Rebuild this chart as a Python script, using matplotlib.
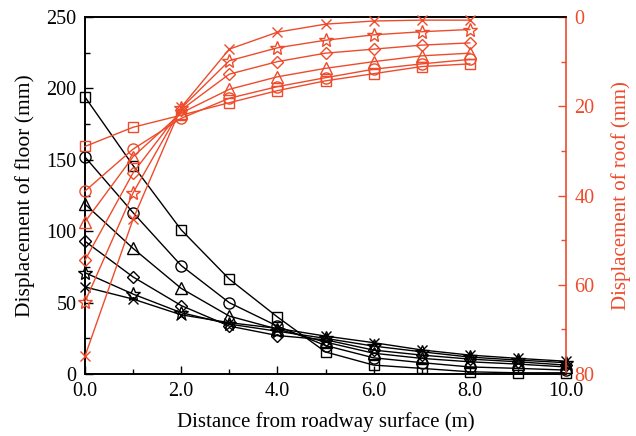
import matplotlib
matplotlib.use("Agg")
import matplotlib.pyplot as plt
from matplotlib.ticker import MultipleLocator, FormatStrFormatter

plt.rcParams['font.family'] = ['Liberation Serif', 'DejaVu Serif']

RED = '#EE4B2B'

# Floor displacement (left axis), distance 0..10 m
x_floor = [0, 1, 2, 3, 4, 5, 6, 7, 8, 9, 10]
floor_square = [194, 146, 101, 66.5, 40, 15.5, 6.3, 4, 1.6, 0.9, 0.9]
floor_circle = [152, 113, 76, 50, 33.6, 20, 11.4, 8, 5, 4, 2.8]
floor_triangle = [119, 88, 60, 40.6, 31.5, 22.4, 14.6, 11, 8.6, 7, 5]
floor_diamond = [93, 68, 48, 33.6, 27, 24, 16.8, 13.3, 10.5, 8.6, 6.3]
floor_star = [71, 56, 43, 35, 30, 25, 19.6, 15.6, 11.9, 9.8, 8]
floor_x = [61, 52.5, 41.5, 36, 32, 26.6, 22, 16.9, 13.3, 11, 9]

# Roof displacement (right axis, inverted), distance 0..8 m
x_roof = [0, 1, 2, 3, 4, 5, 6, 7, 8]
roof_square = [29, 24.7, 22, 19.2, 16.5, 14.3, 12.7, 11.1, 10.5]
roof_circle = [39, 29.6, 22.7, 18.2, 15.6, 13.6, 11.7, 10.5, 9.5]
roof_triangle = [45.9, 31.3, 21.5, 16.2, 13.4, 11.5, 10, 8.7, 8.1]
roof_diamond = [54.5, 34.9, 20.8, 12.8, 10, 8.1, 7.2, 6.3, 5.8]
roof_star = [63.8, 39.4, 20.4, 9.8, 6.9, 5.2, 4, 3.3, 2.8]
roof_x = [76, 45.3, 20.2, 7.2, 3.4, 1.6, 0.9, 0.7, 0.7]

markers = ['s', 'o', '^', 'D', '*', 'x']
msizes = [7, 8, 8, 6.5, 10, 7.5]
floor_series = [floor_square, floor_circle, floor_triangle, floor_diamond, floor_star, floor_x]
roof_series = [roof_square, roof_circle, roof_triangle, roof_diamond, roof_star, roof_x]

fig = plt.figure(figsize=(6.36, 4.36), dpi=100)
ax = fig.add_axes([0.1336, 0.142, 0.7564, 0.819])
ax2 = ax.twinx()

for ys, m, ms in zip(floor_series, markers, msizes):
    ax.plot(x_floor, ys, color='black', lw=1.0, marker=m, ms=ms,
            mfc='none', mec='black', mew=1.0, clip_on=False, zorder=3)

for ys, m, ms in zip(roof_series, markers, msizes):
    ax2.plot(x_roof, ys, color=RED, lw=1.0, marker=m, ms=ms,
             mfc='none', mec=RED, mew=1.0, clip_on=False, zorder=3)

ax.set_xlim(0, 10)
ax.set_ylim(0, 250)
ax2.set_ylim(80, 0)

ax.xaxis.set_major_locator(MultipleLocator(2))
ax.xaxis.set_minor_locator(MultipleLocator(1))
ax.xaxis.set_major_formatter(FormatStrFormatter('%.1f'))
ax.yaxis.set_major_locator(MultipleLocator(50))
ax.yaxis.set_minor_locator(MultipleLocator(25))
ax2.yaxis.set_major_locator(MultipleLocator(20))
ax2.yaxis.set_minor_locator(MultipleLocator(10))

ax.tick_params(axis='both', which='both', direction='in', labelsize=14.5, top=False)
ax.tick_params(axis='both', which='major', length=6, width=1, pad=6)
ax.tick_params(axis='both', which='minor', length=3.5, width=1)
ax.tick_params(axis='y', which='both', right=False)
ax2.tick_params(axis='y', which='both', direction='in', colors=RED, labelsize=14.5)
ax2.tick_params(axis='y', which='major', length=6, width=1, pad=6)
ax2.tick_params(axis='y', which='minor', length=3.5, width=1)

ax2.spines['right'].set_color(RED)
for s in ['left', 'top', 'bottom']:
    ax.spines[s].set_linewidth(1.2)
    ax2.spines[s].set_linewidth(1.2)
ax2.spines['right'].set_linewidth(1.2)
ax.spines['right'].set_visible(False)

ax.set_xlabel('Distance from roadway surface (m)', fontsize=15, labelpad=8)
ax.set_ylabel('Displacement of floor (mm)', fontsize=15.5, labelpad=8)
ax2.set_ylabel('Displacement of roof (mm)', fontsize=15, color=RED, labelpad=12)

fig.savefig('out.png', dpi=100)
